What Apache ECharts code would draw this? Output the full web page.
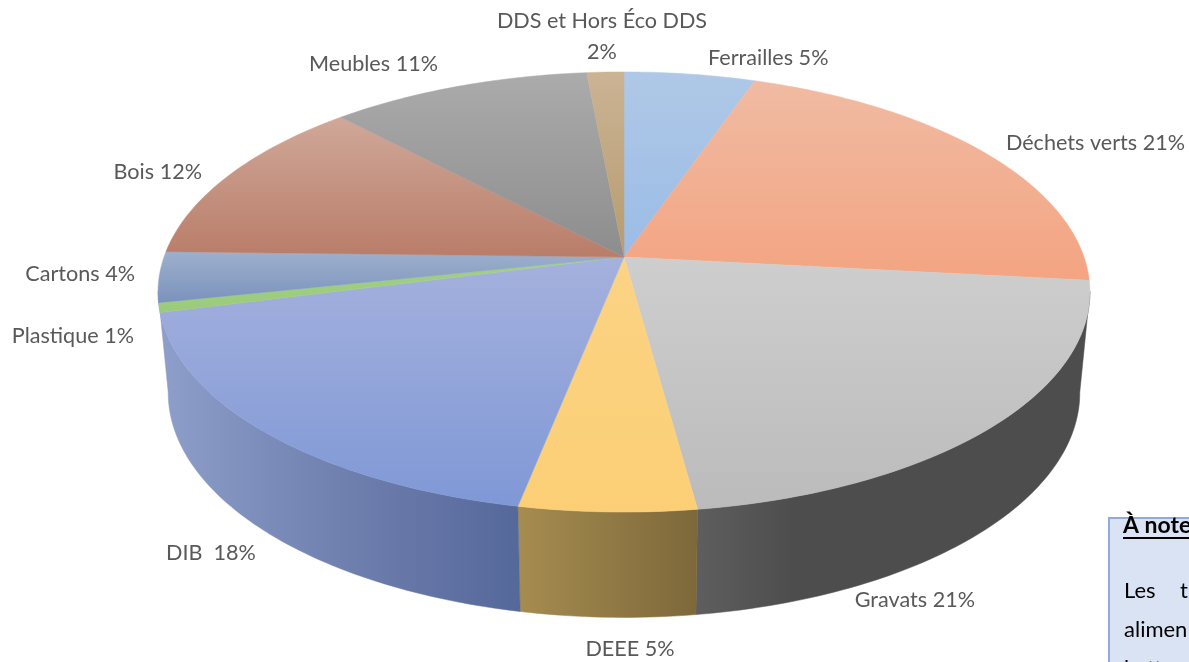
<!DOCTYPE html>
<html><head><meta charset="utf-8">
<style>html,body{margin:0;padding:0;background:#fff;overflow:hidden}#c{width:1189px;height:662px}</style>
<script src="https://cdn.jsdelivr.net/npm/echarts@6/dist/echarts.min.js"></script>
</head><body><div id="c"></div>
<script>
const categories = ['Ferrailles','Déchets verts','Gravats','DEEE','DIB ','Plastique','Cartons','Bois','Meubles','DDS et Hors Éco DDS'];
const values = [5.3,21.4,21.15,5.27,17.88,0.7,3.7,12.55,10.55,1.5];
const percentLabels = ['5%','21%','21%','5%','18%','1%','4%','12%','11%','2%'];

// label anchors (text placement only)
const labelLayout = [
  {x:708,y:58,a:'left'},{x:1185,y:143,a:'right'},{x:975,y:600,a:'right'},{x:630,y:649,a:'center'},
  {x:166,y:553,a:'left'},{x:134,y:336,a:'right'},{x:135,y:274,a:'right'},{x:202,y:172,a:'right'},
  {x:438,y:64,a:'right'},{x:602,y:6,a:'center',wrap:true}
];
const topColors = [
  ['#AFC8E6','#9BBCE6'],['#F0BBA3','#F4A481'],['#CECECE','#BBBBBB'],['#FBD384','#FCCF76'],
  ['#A5B1DD','#7F98D6'],['#A3D085','#9ACB7A'],['#9DB0CC','#7B92BD'],['#D0A899','#B97D69'],
  ['#ABABAB','#8D8D8D'],['#CBB394','#B79C70']
];
const wallColors = [
  null,null,['#5E5E5E','#4D4D4D','#4D4D4D','#4D4D4D','#4D4D4D'],['#A68C50','#7D683A'],['#8F9FCB','#7080AF','#55689A'],
  null,null,null,null,null
];

// projected disc geometry
const cx = 624, K = 0.159;
const TOP = {cy:257, S:214.5, R:460};
const BOT = {cy:357, S:219, R:450};
const tangentRight = 99, tangentLeft = 261;
function project(disc, deg){
  const t = deg*Math.PI/180, d = -Math.cos(t), x = Math.sin(t), w = 1-K*d;
  return [cx + disc.R*x/w, disc.cy + disc.S*d/w];
}
function arc(disc, a, b){
  const pts=[]; const n=Math.max(2,Math.ceil(Math.abs(b-a)));
  for(let i=0;i<=n;i++) pts.push(project(disc,a+(b-a)*i/n));
  return pts;
}
const total = values.reduce((s,v)=>s+v,0);
const starts = []; values.reduce((s,v,i)=>(starts[i]=s,s+v),0);
const angleOf = v => v/total*360;
const grad = (stops,h)=>({type:'linear',x:0,y:0,x2:h?1:0,y2:h?0:1,
  colorStops:stops.map((c,i)=>({offset:i/(stops.length-1),color:c}))});
const rows = values.map((v,i)=>[i,v]);
const lastWall = wallColors.reduce((m,c,i)=>c?i:m,0);

const chart = echarts.init(document.getElementById('c'),null,{renderer:'canvas'});
chart.setOption({
  animation:false,
  backgroundColor:'#fff',
  series:[
    {type:'custom',coordinateSystem:'none',z:1,silent:true,data:rows,
     renderItem(p,api){
       const i=api.value(0);
       if(!wallColors[i]) return {type:'group',children:[]};
       const a=angleOf(starts[i]), b=a+angleOf(api.value(1));
       const lo=Math.max(a,tangentRight), hi=i===lastWall?tangentLeft:b;
       const pts=arc(TOP,lo,hi).concat(arc(BOT,hi,lo));
       const f=grad(wallColors[i],true);
       return {type:'polygon',shape:{points:pts},style:{fill:f,stroke:f,lineWidth:0.5}};
     }},
    {type:'custom',coordinateSystem:'none',z:2,silent:true,data:rows,
     renderItem(p,api){
       const i=api.value(0), a=angleOf(starts[i]), b=a+angleOf(api.value(1));
       const pts=[[cx,TOP.cy]].concat(arc(TOP,a,b));
       const f=grad(topColors[i],false);
       return {type:'polygon',shape:{points:pts},style:{fill:f,stroke:f,lineWidth:0.5}};
     }},
    {type:'custom',coordinateSystem:'none',z:3,silent:true,data:rows,
     renderItem(p,api){
       const i=api.value(0), L=labelLayout[i];
       const txt=L.wrap?categories[i]+'\n'+percentLabels[i]:categories[i]+' '+percentLabels[i];
       return {type:'text',x:L.x,y:L.y,style:{text:txt,fill:'#595959',font:'21.6px Lato',
         align:L.a,verticalAlign:L.wrap?'top':'middle',lineHeight:31}};
     }}
  ],
  graphic:[
    {type:'rect',z:5,shape:{x:1109,y:518,width:100,height:160},style:{fill:'#DAE3F3',stroke:'#8FAADC',lineWidth:2}},
    {type:'text',z:6,x:1123,y:537,style:{text:'À noter',font:'bold 23px Lato',fill:'#000',verticalAlign:'bottom'}},
    {type:'rect',z:6,shape:{x:1123,y:537,width:70,height:2},style:{fill:'#000'}},
    {type:'text',z:6,x:1124,y:602,style:{text:'Les',font:'22px Lato',fill:'#000',verticalAlign:'bottom'}},
    {type:'text',z:6,x:1180,y:602,style:{text:'t',font:'22px Lato',fill:'#000',verticalAlign:'bottom'}},
    {type:'text',z:6,x:1124,y:641,style:{text:'alimen',font:'22px Lato',fill:'#000',verticalAlign:'bottom'}},
    {type:'text',z:6,x:1124,y:680,style:{text:'batter',font:'22px Lato',fill:'#000',verticalAlign:'bottom'}}
  ]
});
</script></body></html>
